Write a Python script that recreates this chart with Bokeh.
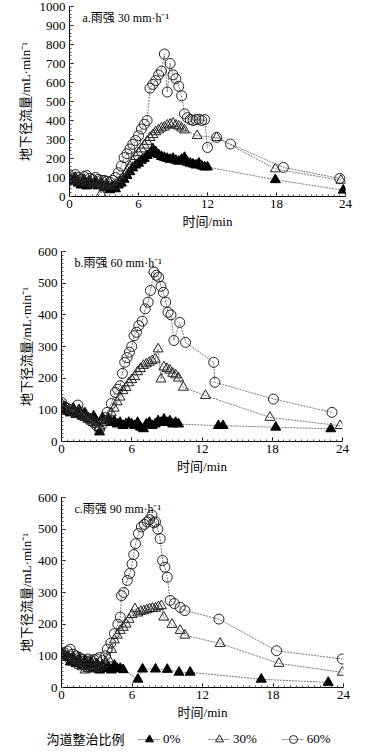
from bokeh.plotting import figure
from bokeh.models import Label, Legend, LegendItem, SingleIntervalTicker, Range1d
from bokeh.embed import file_html
from bokeh.resources import INLINE

# sampling times every 15 s (quarter minutes)
quarter_min = [k / 4 for k in range(49)]

# ---------- Panel a: rainfall 30 mm/h ----------
a0_t = quarter_min[:49] + [17.9, 23.8]
a0_y = [90, 80, 100, 70, 60, 85, 55, 75,
        60, 80, 55, 70, 45, 60, 35, 55,
        40, 60, 70, 90, 110, 130, 150, 165,
        175, 190, 200, 215, 225, 250, 235, 220,
        210, 205, 200, 195, 200, 190, 185, 195,
        205, 180, 175, 170, 165, 175, 160, 155,
        155, 88, 33]
a30_t = quarter_min[:41] + [11.1, 12.8, 17.9, 23.6]
a30_y = [100, 85, 95, 80, 75, 90, 70, 80,
         65, 75, 60, 15, 55, 60, 50, 55,
         60, 75, 90, 110, 135, 160, 185, 210,
         230, 250, 270, 290, 310, 325, 340, 350,
         360, 365, 375, 380, 385, 375, 370, 360,
         350, 320, 310, 145, 85]
a60_t = quarter_min[:49] + [12.8, 14.0, 18.6, 23.5]
a60_y = [110, 95, 115, 100, 90, 105, 110, 95,
         90, 100, 90, 85, 85, 80, 75, 85,
         100, 125, 160, 205, 225, 250, 275, 295,
         320, 355, 380, 400, 570, 590, 610, 640,
         660, 750, 550, 700, 640, 620, 580, 530,
         435, 415, 405, 400, 405, 407, 400, 405,
         258, 311, 276, 153, 95]

# ---------- Panel b: rainfall 60 mm/h ----------
b0_t = quarter_min[:41] + [13.4, 13.8, 18.3, 23.0]
b0_y = [100, 110, 95, 90, 105, 85, 100, 80,
        90, 75, 70, 80, 60, 30, 75, 65,
        70, 60, 65, 55, 60, 50, 55, 60,
        55, 50, 60, 45, 40, 55, 60, 50,
        55, 65, 60, 70, 60, 65, 55, 60,
        55, 50, 50, 45, 40]
b30_t = quarter_min[:41] + [10.4, 12.3, 17.8, 23.8]
b30_y = [120, 110, 105, 100, 95, 90, 85, 80,
         75, 70, 65, 60, 55, 45, 60, 65,
         75, 90, 105, 125, 140, 160, 170, 185,
         195, 205, 220, 230, 240, 245, 250, 255,
         260, 292, 197, 235, 230, 225, 215, 210,
         200, 171, 145, 76, 50]
b60_t = [0, 0.25, 0.5, 0.75, 1, 1.4, 1.75, 2, 2.25, 2.5,
         2.75, 3, 3.25, 3.5, 3.75, 3.9, 4.25, 4.6, 4.8, 5.0,
         5.2, 5.4, 5.6, 5.8, 6.0, 6.2, 6.4, 6.6, 6.9, 7.15,
         7.4, 7.6, 7.9, 8.1, 8.3, 8.5, 8.7, 8.9, 9.1, 9.35,
         9.6, 10.1, 10.6, 13.0, 13.1, 18.1, 23.1]
b60_y = [123, 110, 105, 100, 95, 115, 90, 80, 75, 65,
         60, 50, 39, 55, 75, 92, 120, 155, 165, 176,
         215, 250, 265, 282, 300, 334, 345, 366, 380, 419,
         440, 477, 535, 525, 519, 490, 471, 440, 408, 400,
         319, 376, 313, 250, 187, 134, 92]

# ---------- Panel c: rainfall 90 mm/h ----------
c0_t = quarter_min[:22] + [6.5, 6.9, 8.0, 9.0, 10.0, 10.95, 17.0, 22.7]
c0_y = [110, 95, 100, 80, 95, 75, 90, 70,
        85, 65, 80, 60, 75, 55, 70, 60,
        65, 55, 70, 60, 60, 56,
        26, 58, 58, 57, 48, 48, 26, 16]
c30_t = quarter_min[:35] + [8.7, 9.4, 10.1, 10.5, 13.5, 18.5, 23.9]
c30_y = [100, 105, 95, 90, 80, 85, 70, 65,
         55, 60, 58, 62, 60, 65, 70, 75,
         90, 120, 150, 165, 180, 190, 200, 215,
         230, 248, 235, 240, 242, 245, 248, 250,
         250, 255, 258,
         222, 199, 180, 165, 139, 76, 48]
c60_t = [0, 0.25, 0.5, 0.74, 1.0, 1.25, 1.5, 1.75, 2.0, 2.25,
         2.5, 2.75, 3.0, 3.25, 3.5, 3.75, 3.9, 4.2, 4.5, 4.8,
         5.0, 5.1, 5.3, 5.6, 5.8, 6.0, 6.15, 6.3, 6.55, 6.8,
         7.05, 7.3, 7.5, 7.7, 7.85, 8.0, 8.2, 8.4, 8.6, 8.8,
         9.0, 9.25, 9.6, 10.1, 10.5, 13.4, 18.3, 23.9]
c60_y = [105, 110, 115, 121, 105, 100, 95, 90, 85, 90,
         85, 88, 90, 95, 85, 100, 121, 140, 170, 200,
         222, 290, 300, 338, 360, 390, 420, 454, 486, 507,
         515, 523, 530, 544, 520, 523, 500, 470, 401, 380,
         348, 275, 265, 253, 243, 216, 116, 90]

titles = ["a.雨强 30 mm·h⁻¹", "b.雨强 60 mm·h⁻¹", "c.雨强 90 mm·h⁻¹"]
y_label = "地下径流量/mL·min⁻¹"
x_label = "时间/min"
legend_title = "沟道整治比例"
legend_labels = ["0%", "30%", "60%"]
x_ticks_interval = 6
y_max = [1000, 600, 600]

SERIF = "'Liberation Serif', 'Noto Sans CJK SC'"
LINE_COLOR = "#7a7a7a"
W = 382


def style_series(p, t, y, kind):
    ln = p.line(t, y, line_color=LINE_COLOR, line_width=1, line_dash="2 1")
    if kind == 0:
        sc = p.scatter(t, y, marker="triangle", size=10, fill_color="black",
                       line_color="black", line_width=1)
    elif kind == 1:
        sc = p.scatter(t, y, marker="triangle", size=10, fill_color=None,
                       line_color="#222222", line_width=1)
    else:
        sc = p.scatter(t, y, marker="circle", size=10, fill_color=None,
                       line_color="#222222", line_width=1)
    return ln, sc


def make_panel(idx, series, height, left, top, bottom, frame_w):
    p = figure(width=W, height=height,
               x_range=Range1d(0, 24), y_range=Range1d(0, y_max[idx]),
               output_backend="svg", toolbar_location=None,
               min_border_left=left, min_border_right=W - left - frame_w,
               min_border_top=top, min_border_bottom=bottom)
    p.outline_line_color = None
    p.xgrid.visible = False
    p.ygrid.visible = False
    p.xaxis.ticker = SingleIntervalTicker(interval=x_ticks_interval, num_minor_ticks=12)
    p.yaxis.ticker = SingleIntervalTicker(interval=100, num_minor_ticks=5 if idx == 0 else 8)
    for ax in (p.xaxis[0], p.yaxis[0]):
        ax.axis_line_color = "black"
        ax.major_tick_line_color = "black"
        ax.minor_tick_line_color = "#555555"
        ax.major_tick_in = 4
        ax.major_tick_out = 0
        ax.minor_tick_in = 2
        ax.minor_tick_out = 0
        ax.major_label_text_font = SERIF
        ax.major_label_text_font_size = "13px"
        ax.major_label_text_color = "black"
        ax.axis_label_text_font = SERIF
        ax.axis_label_text_font_size = "13px"
        ax.axis_label_text_font_style = "normal"
        ax.axis_label_text_color = "black"
    p.xaxis.axis_label = x_label
    p.yaxis.axis_label = y_label
    p.xaxis.major_label_standoff = 3
    p.xaxis.axis_label_standoff = 3
    p.yaxis.major_label_standoff = 4
    p.yaxis.axis_label_standoff = 4 if idx == 0 else 1
    for (t, y, kind) in series:
        style_series(p, t, y, kind)
    frame_h = height - top - bottom
    p.add_layout(Label(x=13, y=frame_h - 4, x_units="screen", y_units="screen",
                       text=titles[idx], text_baseline="top", text_align="left",
                       text_font=SERIF, text_font_size="12px", text_color="black"))
    return p


pa = make_panel(0, [(a0_t, a0_y, 0), (a30_t, a30_y, 1), (a60_t, a60_y, 2)],
                240, 69, 6, 44, 276)
pb = make_panel(1, [(b0_t, b0_y, 0), (b30_t, b30_y, 1), (b60_t, b60_y, 2)],
                246, 61, 11, 45, 281)
pc = make_panel(2, [(c0_t, c0_y, 0), (c30_t, c30_y, 1), (c60_t, c60_y, 2)],
                239, 61, 11, 38, 282)

# legend strip (legend-only renderers sit outside the visible range)
pl = figure(width=W, height=27, x_range=Range1d(0, W), y_range=Range1d(0, 27),
            output_backend="svg", toolbar_location=None,
            min_border_left=0, min_border_right=0, min_border_top=0, min_border_bottom=0)
pl.axis.visible = False
pl.xgrid.visible = False
pl.ygrid.visible = False
pl.outline_line_color = None
leg_r = [style_series(pl, [-50, -40], [-50, -40], k) for k in range(3)]
items = [LegendItem(label=legend_labels[i], renderers=[leg_r[i][0], leg_r[i][1]]) for i in range(3)]
legend = Legend(items=items, orientation="horizontal", location=(138, 3),
                glyph_width=22, glyph_height=20, label_standoff=3, spacing=25,
                padding=0, margin=0, border_line_color=None, background_fill_alpha=0,
                label_text_font=SERIF, label_text_font_size="13px",
                label_text_color="black", label_height=14)
pl.add_layout(legend)
pl.add_layout(Label(x=46, y=13, x_units="screen", y_units="screen",
                    text=legend_title, text_baseline="middle", text_align="left",
                    text_font=SERIF, text_font_size="13px", text_color="black"))

open("out.html", "w").write(file_html([pa, pb, pc, pl], INLINE))
